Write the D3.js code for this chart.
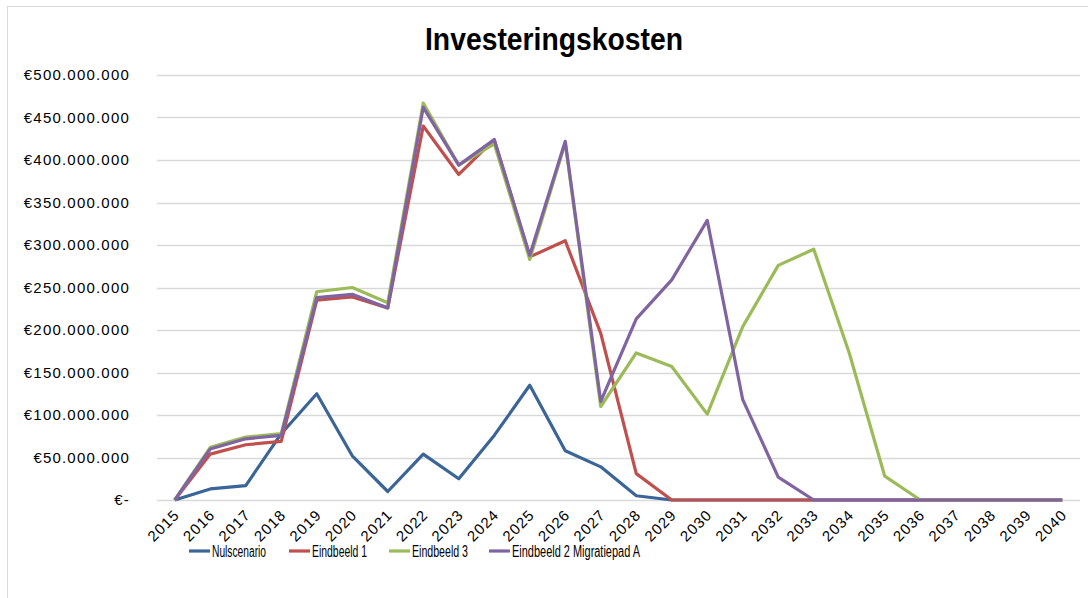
<!DOCTYPE html>
<meta charset="utf-8">
<script src="https://d3js.org/d3.v7.min.js"></script>
<style>
  body { margin: 0; background: #fff; }
  text { font-family: "Liberation Sans", Arial, sans-serif; fill: #000; }
</style>
<div id="chart"></div>
<script>

// data (values in euro)
var years = d3.range(2015, 2041).map(String);
var seriesNames = ["Nulscenario", "Eindbeeld 1", "Eindbeeld 3", "Eindbeeld 2 Migratiepad A"];
var seriesColors = ["#3b6597", "#c0504d", "#9bbb59", "#8064a2"];
var M = 1e6;
var nulscenario = [0, 13, 17, 78, 125, 52, 10, 54, 25, 76, 135, 58, 39, 5, 0, 0, 0, 0, 0, 0, 0, 0, 0, 0, 0, 0];
var eindbeeld1  = [0, 54, 65, 69, 235, 239, 226, 440, 383, 424, 286, 305, 196, 31, 0, 0, 0, 0, 0, 0, 0, 0, 0, 0, 0, 0];
var eindbeeld3  = [0, 62, 74, 78, 245, 250, 232, 467, 394, 419, 283, 420, 110, 173, 157, 101, 204, 276, 295, 173, 28, 0, 0, 0, 0, 0];
var migratieA   = [0, 60, 72, 76, 238, 242, 226, 462, 394, 424, 288, 422, 116, 213, 259, 329, 118, 27, 0, 0, 0, 0, 0, 0, 0, 0];
var yTicks = [0, 50, 100, 150, 200, 250, 300, 350, 400, 450, 500];

var allSeries = [nulscenario, eindbeeld1, eindbeeld3, migratieA];

var W = 1088, H = 598;
var svg = d3.select("#chart").append("svg")
  .attr("width", W)
  .attr("height", H);

// outer chart border
svg.append("rect")
  .attr("x", 7.5).attr("y", 6.5)
  .attr("width", W + 10).attr("height", H + 10)
  .attr("fill", "none")
  .attr("stroke", "#d9d9d9");

// title
svg.append("text")
  .attr("x", 554).attr("y", 50)
  .attr("text-anchor", "middle")
  .attr("textLength", 258)
  .attr("lengthAdjust", "spacingAndGlyphs")
  .style("font-size", "31px")
  .style("font-weight", "bold")
  .text("Investeringskosten");

// scales
var x = d3.scaleBand()
  .domain(years)
  .range([157, 1080]);
var y = d3.scaleLinear()
  .domain([0, 500 * M])
  .range([500, 75]);

function fmt(v) {
  if (v === 0) return "€-";
  return "€" + d3.format(",")(v).replace(/,/g, ".");
}

// gridlines
svg.append("g")
  .selectAll("line")
  .data(yTicks)
  .enter()
  .append("line")
    .attr("x1", 157).attr("x2", 1080)
    .attr("y1", function(d) { return Math.round(y(d * M)) + 0.5; })
    .attr("y2", function(d) { return Math.round(y(d * M)) + 0.5; })
    .attr("stroke", "#d9d9d9")
    .attr("stroke-width", 1.5);

// y axis labels
var yAxis = svg.append("g")
  .attr("transform", "translate(130,0)")
  .call(d3.axisLeft(y).tickValues(yTicks.map(function(d) { return d * M; }))
    .tickFormat(fmt).tickSize(0).tickPadding(0));
yAxis.select(".domain").remove();
yAxis.selectAll("text")
  .style("font-size", "15px")
  .style("letter-spacing", "1.2px")
  .style("font-family", "'Liberation Sans', Arial, sans-serif")
  .attr("fill", "#000");

// x axis labels
var xAxis = svg.append("g")
  .attr("transform", "translate(0,500)")
  .call(d3.axisBottom(x).tickSize(0).tickPadding(0));
xAxis.select(".domain").remove();
xAxis.selectAll("text")
  .style("font-size", "15px")
  .style("letter-spacing", "1.1px")
  .style("font-family", "'Liberation Sans', Arial, sans-serif")
  .attr("fill", "#000")
  .attr("text-anchor", "end")
  .attr("dy", null)
  .attr("y", 0)
  .attr("transform", "translate(3,13) rotate(-45)")
  .attr("dominant-baseline", "middle");

// lines
var line = d3.line()
  .x(function(d, i) { return x(years[i]) + x.bandwidth() / 2; })
  .y(function(d) { return y(d * M); });

svg.append("g")
  .selectAll("path")
  .data(allSeries)
  .enter()
  .append("path")
    .attr("d", line)
    .attr("fill", "none")
    .attr("stroke", function(d, i) { return seriesColors[i]; })
    .attr("stroke-width", 3.2)
    .attr("stroke-linejoin", "round");

// legend
var legendX = [189, 289, 389, 489];
var legendW = [54, 55, 56, 128];
var legend = svg.append("g")
  .selectAll("g")
  .data(seriesNames)
  .enter()
  .append("g")
    .attr("transform", function(d, i) { return "translate(" + legendX[i] + ",551)"; });
legend.append("line")
  .attr("x1", 0).attr("x2", 21)
  .attr("stroke", function(d, i) { return seriesColors[i]; })
  .attr("stroke-width", 3.2);
legend.append("text")
  .attr("x", 23)
  .attr("y", 5.5)
  .attr("textLength", function(d, i) { return legendW[i]; })
  .attr("lengthAdjust", "spacingAndGlyphs")
  .style("font-size", "16px")
  .text(function(d) { return d; });

</script>
